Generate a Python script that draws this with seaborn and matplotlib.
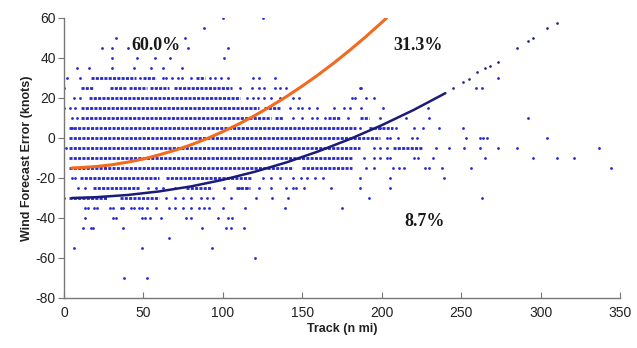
import matplotlib
matplotlib.use("Agg")
import matplotlib.pyplot as plt
import numpy as np
import pandas as pd
import seaborn as sns

# Data

# dense rows of forecast errors: (error, track start, track end)
run_y = [30, 30, 30,
         25, 25, 25, 25, 25,
         20,
         15, 15,
         10, 10, 10, 10,
         5, 5,
         0,
         -5, -5,
         -10,
         -15, -15,
         -20, -20,
         -25, -25, -25,
         -30, -30]
run_x0 = [17, 50, 83,
          11, 29, 41, 54, 69,
          16,
          11, 126,
          11, 133, 166, 186,
          3, 192,
          3,
          3, 207,
          3,
          3, 150,
          10, 64,
          18, 77, 108,
          3, 35]
run_x1 = [45, 58, 89,
          18, 39, 52, 66, 106,
          111,
          123, 136,
          130, 138, 174, 192,
          184, 207,
          199,
          186, 226,
          182,
          144, 181,
          60, 118,
          47, 93, 117,
          27, 60]

# single points
lone_y = [60, 60, 55, 50, 50,
          45, 45, 45, 45, 45,
          40, 40, 40, 40, 40,
          35, 35, 35, 35, 35, 35, 35,
          30, 30, 30, 30, 30, 30, 30, 30, 30, 30, 30, 30, 30, 30, 30, 30, 30,
          25, 25, 25, 25, 25, 25, 25, 25, 25, 25, 25, 25,
          20, 20, 20, 20, 20, 20, 20, 20, 20, 20, 20, 20, 20, 20,
          15, 15, 15, 15, 15, 15, 15, 15, 15, 15, 15, 15, 15, 15,
          10, 10, 10, 10, 10, 10, 10, 10, 10, 10, 10, 10,
          5, 5, 5, 5, 5, 5, 5, 5,
          0, 0, 0, 0, 0, 0, 0, 0, 0, 0,
          -5, -5, -5, -5, -5, -5, -5, -5, -5, -5, -5,
          -10, -10, -10, -10, -10, -10, -10, -10, -10, -10, -10, -10,
          -15, -15, -15, -15, -15, -15, -15, -15, -15, -15,
          -20, -20, -20, -20, -20, -20, -20, -20, -20, -20, -20, -20, -20,
          -25, -25, -25, -25, -25, -25, -25, -25, -25, -25, -25, -25,
          -25, -25, -25, -25, -25, -25,
          -30, -30, -30, -30, -30, -30, -30, -30, -30, -30, -30, -30, -30,
          -30,
          -35, -35, -35, -35, -35, -35, -35, -35, -35, -35, -35, -35, -35,
          -35, -35, -35, -35, -35, -35, -35, -35, -35, -35, -35, -35,
          -40, -40, -40, -40, -40, -40, -40, -40, -40, -40, -40, -40,
          -45, -45, -45, -45, -45, -45, -45, -45,
          -50, -55, -55, -55, -60, -70, -70]
lone_x = [100, 125, 88, 33, 76,
          24, 30, 40, 78, 103,
          30, 46, 57, 67, 101,
          8, 16, 30, 44, 55, 62, 74,
          2, 10, 64, 72, 74, 80, 92, 95, 99, 103, 119, 123, 133, 48, 62, 68, 273,
          0, 111, 118, 123, 126, 133, 136, 140, 186, 187, 259, 263,
          6, 10, 115, 119, 122, 126, 130, 136, 144, 148, 181, 183, 190, 195,
          0, 4, 7, 142, 147, 150, 154, 159, 170, 176, 180, 187, 201, 229,
          5, 8, 144, 150, 156, 159, 164, 179, 199, 215, 230, 292,
          186, 199, 209, 220, 226, 236, 251, 5,
          203, 205, 210, 219, 222, 253, 262, 264, 266, 304,
          195, 199, 203, 234, 242, 252, 262, 273, 285, 337, 1,
          189, 195, 199, 203, 205, 220, 223, 232, 265, 295, 310, 321,
          190, 195, 207, 211, 214, 227, 230, 238, 256, 344,
          5, 7, 125, 130, 136, 144, 149, 153, 158, 163, 186, 205, 239,
          9, 13, 53, 58, 62, 70, 101, 110, 115, 123, 130, 140,
          144, 146, 151, 168, 186, 205,
          0, 64, 70, 75, 80, 86, 90, 94, 105, 121, 131, 141, 192,
          263,
          13, 15, 19, 21, 29, 31, 36, 37, 42, 44, 47, 49, 52,
          58, 66, 70, 75, 80, 85, 88, 91, 100, 114, 139, 175,
          13, 31, 33, 49, 51, 54, 61, 77, 80, 97, 103, 106,
          12, 17, 18, 37, 87, 102, 105, 113,
          66, 6, 49, 93, 120, 38, 52]

# orange threshold curve
orange_x = [5, 10, 20, 30, 40, 50, 60, 70, 80, 90, 100, 110, 120, 130,
            140, 150, 160, 170, 180, 190, 200, 203]
orange_y = [-15.0, -14.8, -14.3, -13.4, -12.1, -10.5, -8.4, -6.1, -3.4, -0.3,
            3.2, 7.0, 11.2, 15.8, 20.7, 26.0, 31.6, 37.6, 44.0, 50.7, 57.8, 60.0]

# navy threshold curve
navy_x = [5, 20, 40, 60, 80, 100, 120, 140, 160, 180, 200, 220, 240]
navy_y = [-30.0, -29.6, -28.5, -26.7, -24.2, -20.9, -16.9, -12.2, -6.7,
          -0.5, 6.4, 14.0, 22.4]
navy_dot_x = [245, 251, 255, 260, 265, 268, 273, 285, 292, 295, 304, 310]
navy_dot_y = [25.0, 28.0, 29.5, 33.0, 35.0, 36.0, 38.0, 45.0, 48.5, 50.0, 55.0, 57.5]

shares = ["60.0%", "31.3%", "8.7%"]
share_x = [58, 223, 227]
share_y = [46, 46, -42]

blue = "#2828d0"
navy = "#1b1b78"
orange = "#f26a1f"

sns.set_style("ticks")
plt.rcParams["font.family"] = ["Liberation Sans", "DejaVu Sans"]
plt.rcParams["axes.unicode_minus"] = False

fig = plt.figure(figsize=(6.37, 3.48), dpi=100)
ax = fig.add_axes([0.1005, 0.1437, 0.873, 0.8046])

ax.hlines(run_y, run_x0, run_x1, colors=blue, linewidth=2.0,
          linestyles=[(0, (1.1, 0.45))], zorder=2)

pts = pd.DataFrame({"track": lone_x, "err": lone_y})
sns.scatterplot(data=pts, x="track", y="err", ax=ax, color=blue, s=4,
                marker="o", linewidth=0, zorder=2)

sns.lineplot(x=navy_x, y=navy_y, ax=ax, color=navy, linewidth=1.8, zorder=3)
sns.scatterplot(x=navy_dot_x, y=navy_dot_y, ax=ax, color=navy, s=3.5,
                linewidth=0, zorder=3)
sns.lineplot(x=orange_x, y=orange_y, ax=ax, color=orange, linewidth=2.2, zorder=4)

for s, x, y in zip(shares, share_x, share_y):
    ax.text(x, y, s, ha="center", va="center", fontsize=13, fontweight="bold",
            family=["Liberation Serif", "DejaVu Serif"], color="#1a1a1a", zorder=5)

ax.set_xlim(0, 350)
ax.set_ylim(-80, 60)
ax.set_xticks(np.arange(0, 351, 50))
ax.set_yticks(np.arange(-80, 61, 20))
ax.tick_params(axis="x", direction="in", length=4, colors="#777777",
               labelcolor="#222222", labelsize=10, pad=6)
ax.tick_params(axis="y", direction="out", length=4, colors="#777777",
               labelcolor="#222222", labelsize=10, pad=2)
for side in ["top", "right"]:
    ax.spines[side].set_visible(False)
for side in ["left", "bottom"]:
    ax.spines[side].set_color("#777777")
    ax.spines[side].set_linewidth(1.0)

ax.set_xlabel("Track (n mi)", fontsize=9, fontweight="bold", color="#222222",
              labelpad=2)
ax.set_ylabel("Wind Forecast Error (knots)", fontsize=9, fontweight="bold",
              color="#222222", labelpad=2)

fig.savefig("out.png", dpi=100)
